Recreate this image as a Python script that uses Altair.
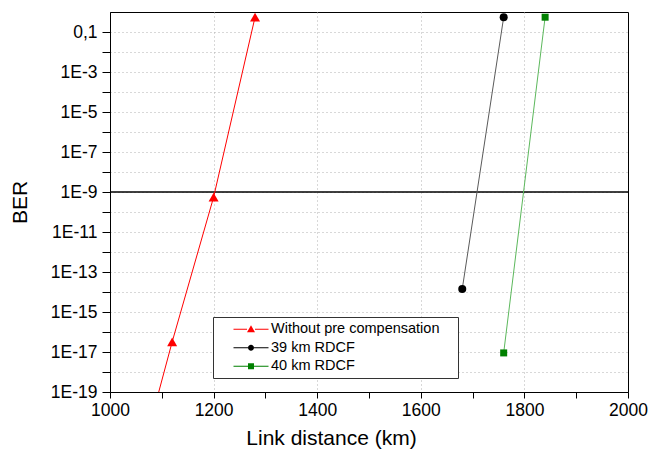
import altair as alt
import pandas as pd

# ---- data ----
series_names = ["Without pre compensation", "39 km RDCF", "40 km RDCF"]

red_dist = [1040, 1120, 1200, 1280]
red_ber = [6e-25, 3.2e-17, 5.5e-10, 0.55]

black_dist = [1680, 1760]
black_ber = [1.4e-14, 0.55]

green_dist = [1760, 1840]
green_ber = [9e-18, 0.55]

threshold_ber = [1e-9]

x_tick_values = [1000, 1100, 1200, 1300, 1400, 1500, 1600, 1700, 1800, 1900, 2000]
y_tick_values = [1e-1, 1e-2, 1e-3, 1e-4, 1e-5, 1e-6, 1e-7, 1e-8, 1e-9, 1e-10,
                 1e-11, 1e-12, 1e-13, 1e-14, 1e-15, 1e-16, 1e-17, 1e-18, 1e-19]

# ---- styles ----
FONT = "Liberation Sans"
marker_colors = ["#ff0000", "#000000", "#008000"]
line_colors = ["#ff0000", "#5a5a5a", "#5cb85c"]
marker_shapes = ["triangle-up", "circle", "square"]
marker_sizes = [100, 64, 49]

# legend symbols: line - marker - line (1 unit = 5 px for size 100)
legend_paths = [
    "M-3.5,-0.1H-0.8V0.1H-3.5Z M0.8,-0.1H3.5V0.1H0.8Z M-0.8,0.6L0,-0.8L0.8,0.6Z",
    "M-3.5,-0.1H-0.6V0.1H-3.5Z M0.6,-0.1H3.5V0.1H0.6Z M0.6,0A0.6,0.6 0 1,1 -0.6,0A0.6,0.6 0 1,1 0.6,0Z",
    "M-3.5,-0.1H-0.6V0.1H-3.5Z M0.6,-0.1H3.5V0.1H0.6Z M-0.6,-0.6H0.6V0.6H-0.6Z",
]

rows = []
for name, xs, ys in zip(series_names, [red_dist, black_dist, green_dist],
                        [red_ber, black_ber, green_ber]):
    for x, y in zip(xs, ys):
        rows.append({"series": name, "dist": x, "ber": y})
df = pd.DataFrame(rows)

x_axis = alt.Axis(
    values=x_tick_values,
    format="d",
    labelExpr="datum.value % 200 === 0 ? datum.label : ''",
    labelFlush=False,
    labelOverlap=False,
    title="Link distance (km)",
    titleX=221,
    titleAlign="center",
    grid=True,
    gridDash=[1, 3],
    gridColor="#b0b0b0",
    gridOpacity={"condition": {"test": "datum.value % 200 === 0 && datum.value > 1000 && datum.value < 2000", "value": 1}, "value": 0},
    tickSize=6,
    labelPadding=3,
    titlePadding=9,
)
y_axis = alt.Axis(
    values=y_tick_values,
    labelExpr="(round(log(datum.value)/LN10) % 2 === 0) ? '' : (round(log(datum.value)/LN10) === -1 ? '0,1' : '1E' + round(log(datum.value)/LN10))",
    labelOverlap=False,
    labelFlush=False,
    title="BER",
    grid=True,
    gridDash=[1, 3],
    gridColor="#b0b0b0",
    tickSize=8,
    labelPadding=5,
    titlePadding=20,
)

x_enc = alt.X("dist:Q", scale=alt.Scale(domain=[1000, 2000], nice=False, zero=False), axis=x_axis)
y_enc = alt.Y("ber:Q", scale=alt.Scale(type="log", domain=[1e-19, 1], nice=False), axis=y_axis)

layers = []

rule = alt.Chart(pd.DataFrame({"ber": threshold_ber})).mark_rule(
    color="black", strokeWidth=1.5
).encode(y=y_enc)
layers.append(rule)

for i, name in enumerate(series_names):
    base = alt.Chart(df).transform_filter(alt.datum.series == name)
    layers.append(base.mark_line(color=line_colors[i], strokeWidth=1, clip=True).encode(x=x_enc, y=y_enc))
    layers.append(base.mark_point(filled=True, color=marker_colors[i], shape=marker_shapes[i],
                                  size=marker_sizes[i], opacity=1, clip=True).encode(x=x_enc, y=y_enc))

legend_props = dict(
    orient="none", legendX=103, legendY=305,
    title="\u00a0", titleOrient="right", titleFontSize=14.5, titlePadding=14,
    padding=5, rowPadding=3.5, labelOffset=12.75, symbolOffset=25.75, labelLimit=0,
    labelFontSize=14.5, labelFont=FONT, labelColor="black",
    strokeColor="#333333", fillColor="white",
    symbolSize=100, symbolStrokeWidth=0,
)
legend_layer = alt.Chart(df).transform_filter("false").mark_point(
    filled=True, size=100, opacity=1
).encode(
    color=alt.Color("series:N", scale=alt.Scale(domain=series_names, range=marker_colors),
                    legend=alt.Legend(**legend_props)),
    shape=alt.Shape("series:N", scale=alt.Scale(domain=series_names, range=legend_paths),
                    legend=alt.Legend(**legend_props)),
)
layers.append(legend_layer)

chart = alt.layer(*layers).properties(
    width=518, height=380,
    autosize=alt.AutoSizeParams(type="none"),
    padding={"left": 110, "top": 12, "right": 21, "bottom": 67},
    background="white",
).configure_view(
    stroke="black", strokeWidth=1
).configure_axis(
    labelFont=FONT, titleFont=FONT, labelFontSize=17.5, titleFontSize=21,
    titleFontWeight="normal", labelColor="black", titleColor="black",
    tickColor="black", domainColor="black", domainWidth=1, tickWidth=1,
)

chart.save("out.html", embed_options={"renderer": "svg", "actions": False})
